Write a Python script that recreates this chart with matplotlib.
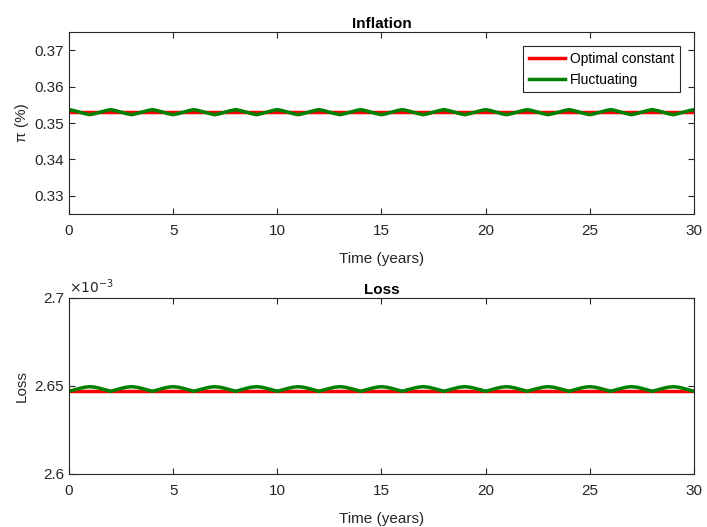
import numpy as np
import matplotlib
matplotlib.use("Agg")
import matplotlib.pyplot as plt
from matplotlib.ticker import FuncFormatter

plt.rcParams['font.family'] = ['Liberation Sans', 'DejaVu Sans']

# time grid: quarterly over 30 years
time_years = np.arange(0, 30.01, 0.25)

# one two-year cycle (quarterly), repeated over the horizon
infl_cycle = [0.3537, 0.3534, 0.3530, 0.3526, 0.3523, 0.3526, 0.3530, 0.3534]
loss_cycle = [2.6470e-3, 2.6478e-3, 2.6486e-3, 2.6493e-3, 2.6496e-3, 2.6493e-3, 2.6486e-3, 2.6478e-3]

infl_const = 0.3530
loss_const = 2.6473e-3

infl_fluct = (infl_cycle * 16)[:len(time_years)]
loss_fluct = (loss_cycle * 16)[:len(time_years)]

txt = (0.15, 0.15, 0.15)
red = (1, 0, 0)
green = (0, 0.5, 0)

fig = plt.figure(figsize=(7.07, 5.27), dpi=100)
ax1 = fig.add_axes([0.0976, 0.594, 0.884, 0.345])
ax2 = fig.add_axes([0.0976, 0.1006, 0.884, 0.334])

def style(ax):
    for s in ax.spines.values():
        s.set_color(txt)
        s.set_linewidth(0.8)
    ax.tick_params(direction='in', top=True, right=True, colors=txt,
                   labelsize=11, length=4, width=0.8)
    ax.tick_params(axis='x', pad=7)
    ax.set_xlim(0, 30)
    ax.set_xticks([0, 5, 10, 15, 20, 25, 30])
    ax.set_xlabel('Time (years)', fontsize=11, color=txt, labelpad=10)

# Inflation
ax1.plot(time_years, [infl_const] * len(time_years), color=red, lw=2.5, label='Optimal constant')
ax1.plot(time_years, infl_fluct, color=green, lw=2.5, label='Fluctuating')
ax1.set_ylim(0.325, 0.375)
ax1.set_yticks([0.33, 0.34, 0.35, 0.36, 0.37])
ax1.set_ylabel('π (%)', fontsize=11, color=txt)
ax1.set_title('Inflation', fontsize=11, fontweight='bold', color='black', pad=3)
style(ax1)
leg = ax1.legend(loc='upper right', fontsize=10, fancybox=False, framealpha=1,
                 edgecolor=txt, handlelength=2.6, borderaxespad=1.0,
                 labelspacing=0.5, handletextpad=0.4, borderpad=0.4)
leg.get_frame().set_linewidth(0.8)

# Loss
ax2.plot(time_years, [loss_const] * len(time_years), color=red, lw=2.5)
ax2.plot(time_years, loss_fluct, color=green, lw=2.5)
ax2.set_ylim(2.6e-3, 2.7e-3)
ax2.set_yticks([2.6e-3, 2.65e-3, 2.7e-3])
ax2.yaxis.set_major_formatter(FuncFormatter(lambda v, p: '%g' % round(v * 1e3, 4)))
ax2.set_ylabel('Loss', fontsize=11, color=txt)
ax2.set_title('Loss', fontsize=11, fontweight='bold', color='black', pad=3)
ax2.text(0.0, 1.01, r'$\times10^{-3}$', transform=ax2.transAxes, fontsize=10,
         color=txt, ha='left', va='bottom')
style(ax2)

fig.savefig('out.png', dpi=100, facecolor='white')
